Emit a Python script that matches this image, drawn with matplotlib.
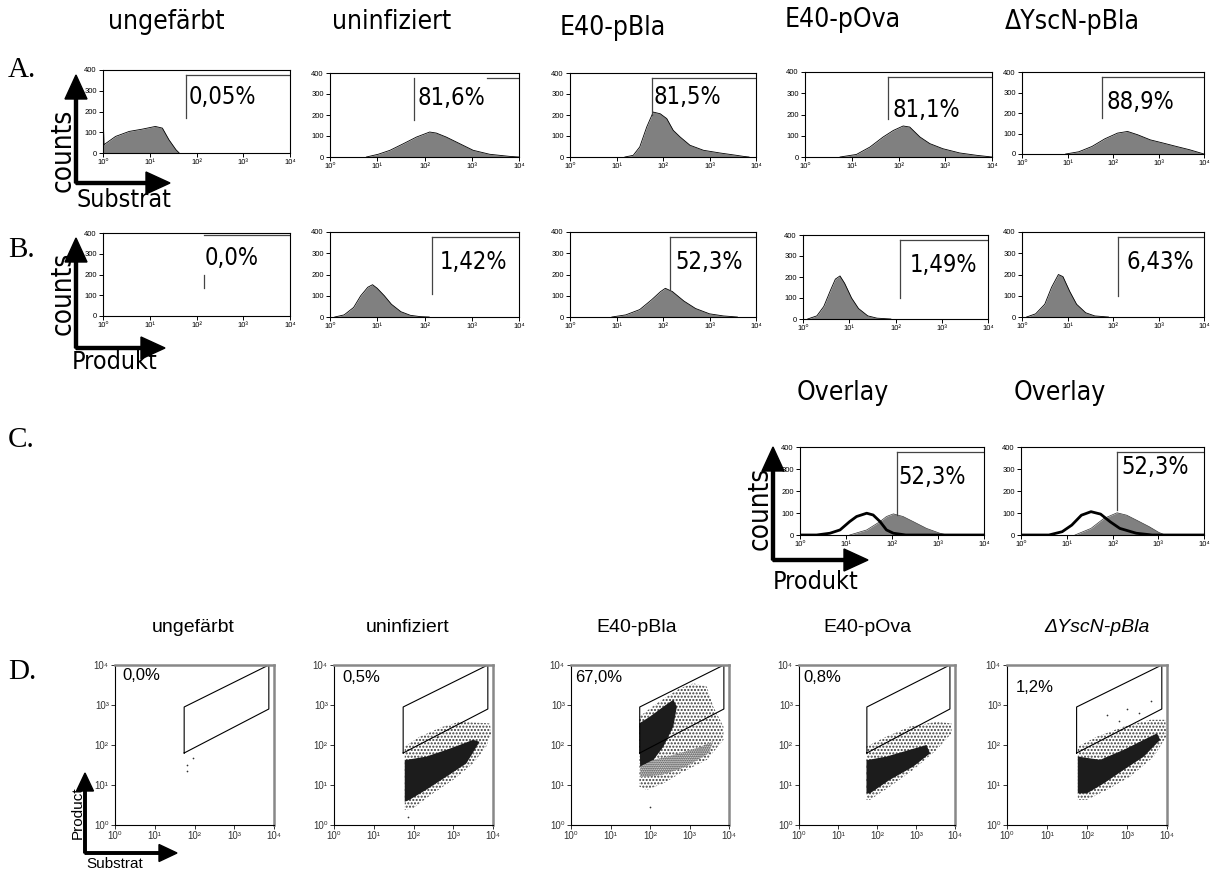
import numpy as np
import matplotlib
matplotlib.use('Agg')
import matplotlib.pyplot as plt
import matplotlib.font_manager as fm

W, H = 1212, 869
SANS = ['Liberation Sans', 'DejaVu Sans']
SERIF = ['Liberation Serif', 'DejaVu Serif']

# pick a condensed sans face if the machine has one, else shrink a normal one
cond = []
for f in fm.fontManager.ttflist:
    n = f.name
    if any(k in n for k in ('Mono', 'Serif', 'CJK', 'Math', 'Display')):
        continue
    narrow = ('Narrow' in n or 'Condensed' in n or
              f.stretch in ('condensed', 'semi-condensed', 'extra-condensed', 'ultra-condensed'))
    if narrow and f.style == 'normal' and f.weight in (400, 'normal', 'regular', 'book'):
        cond.append(f)
cond.sort(key=lambda f: 0 if 'Liberation' in f.name else (1 if 'DejaVu' in f.name else 2))
if cond:
    NARROW_FILE, SCALE = cond[0].fname, 1.0
else:
    NARROW_FILE, SCALE = None, 0.8


def narrow(size):
    if NARROW_FILE:
        return fm.FontProperties(fname=NARROW_FILE, size=size)
    return fm.FontProperties(family=SANS, size=size * SCALE)


DEC_LABELS = ['10⁰', '10¹', '10²', '10³', '10⁴']
COUNT_TICKS = [0, 100, 200, 300, 400]

titles_top = ['ungefärbt', 'uninfiziert', 'E40-pBla', 'E40-pOva', 'ΔYscN-pBla']

# --- row A: Substrat histograms (log10 fluorescence, counts)
a_x = [
    [0, 0.02, 0.27, 0.56, 0.84, 1.12, 1.27, 1.41, 1.56, 1.63],
    [0.77, 1.02, 1.27, 1.55, 1.83, 2.11, 2.25, 2.46, 2.75, 3.03, 3.38, 3.8, 4.0],
    [1.18, 1.36, 1.5, 1.65, 1.79, 1.94, 2.08, 2.22, 2.37, 2.58, 2.87, 3.23, 3.58, 3.73, 3.85],
    [0.75, 1.1, 1.39, 1.67, 1.89, 2.1, 2.24, 2.46, 2.67, 2.95, 3.31, 3.67, 4.0],
    [0.96, 1.25, 1.54, 1.82, 2.1, 2.32, 2.54, 2.82, 3.11, 3.39, 3.68, 4.0],
]
a_counts = [
    [216, 40, 80, 104, 115, 128, 120, 64, 16, 0],
    [0, 13, 32, 63, 95, 119, 114, 95, 63, 32, 13, 3, 0],
    [0, 8, 48, 143, 214, 206, 183, 127, 95, 56, 32, 19, 8, 3, 0],
    [0, 12, 47, 94, 125, 146, 141, 94, 63, 39, 19, 8, 0],
    [0, 11, 37, 74, 102, 110, 94, 69, 53, 37, 21, 0],
]
a_pct = ['0,05%', '81,6%', '81,5%', '81,1%', '88,9%']
a_pct_pos = [(1.83, 270), (1.86, 281), (1.8, 286), (1.88, 221), (1.85, 253)]
# gate: marker x, lower end, upper end, start of top line
a_gate = [(1.77, 170, 375, 1.77), (1.78, 176, 376, 3.32), (1.76, 200, 376, 1.76),
          (1.78, 181, 376, 1.78), (1.76, 176, 376, 1.76)]

# --- row B: Produkt histograms
b_x = [
    [],
    [0.1, 0.3, 0.5, 0.65, 0.8, 0.9, 1.0, 1.15, 1.3, 1.5, 1.7, 1.9, 2.1],
    [0.9, 1.2, 1.5, 1.75, 1.95, 2.05, 2.2, 2.45, 2.7, 3.0, 3.3, 3.6],
    [0.1, 0.3, 0.45, 0.6, 0.7, 0.8, 0.9, 1.05, 1.2, 1.4, 1.6, 1.9],
    [0.1, 0.3, 0.5, 0.65, 0.8, 0.9, 1.05, 1.2, 1.4, 1.6, 1.9],
]
b_counts = [
    [],
    [0, 10, 45, 100, 140, 152, 135, 100, 60, 25, 8, 2, 0],
    [0, 10, 35, 80, 120, 135, 120, 75, 40, 15, 5, 0],
    [0, 15, 60, 140, 190, 205, 170, 100, 50, 15, 4, 0],
    [0, 15, 60, 140, 200, 190, 120, 60, 20, 5, 0],
]
b_pct = ['0,0%', '1,42%', '52,3%', '1,49%', '6,43%']
b_pct_pos = [(2.18, 280), (2.33, 260), (2.26, 260), (2.3, 255), (2.3, 260)]
b_gate = [(2.16, 135, 198, 2.16, 390), (2.16, 110, 375, 2.16, 375), (2.16, 130, 375, 2.16, 375),
          (2.1, 100, 375, 2.1, 375), (2.1, 100, 375, 2.1, 375)]

# --- row C: overlays (gray = infected, black line = uninfected)
c_gray_x = [
    [1.08, 1.45, 1.74, 1.88, 2.03, 2.24, 2.46, 2.75, 3.04, 3.2],
    [1.18, 1.53, 1.81, 2.1, 2.31, 2.52, 2.8, 3.01, 3.15],
]
c_gray = [
    [0, 23, 61, 84, 96, 84, 61, 30, 8, 0],
    [0, 30, 75, 101, 90, 68, 38, 12, 0],
]
c_line_x = [
    [0, 0.36, 0.65, 0.87, 1.08, 1.23, 1.45, 1.59, 1.74, 1.88, 2.03, 2.3, 4.0],
    [0, 0.61, 0.9, 1.11, 1.32, 1.53, 1.74, 1.95, 2.16, 2.52, 2.87, 4.0],
]
c_line = [
    [0, 0, 8, 23, 61, 84, 99, 91, 61, 23, 8, 0, 0],
    [0, 0, 15, 45, 90, 106, 95, 60, 30, 8, 0, 0],
]
c_pct_pos = [(2.13, 264), (2.2, 309)]
c_gate = [(2.1, 91, 376), (2.1, 113, 376)]

# --- row D: Substrat vs Product dot plots (outlines of dot clouds, log10 units)
gate_poly_x = [1.74, 1.74, 3.87, 3.87]
gate_poly_y = [1.8, 2.95, 4.0, 2.9]
d_sparse = [
    None,
    [(1.78, 1.96), (2.16, 2.21), (2.74, 2.46), (3.16, 2.58), (3.92, 2.54), (3.96, 2.29),
     (3.83, 1.96), (3.5, 1.54), (3.0, 1.13), (2.49, 0.79), (1.99, 0.42), (1.78, 0.38)],
    [(1.73, 2.71), (2.17, 3.04), (2.76, 3.42), (3.1, 3.54), (3.44, 3.46), (3.6, 2.96),
     (3.86, 2.46), (3.86, 2.13), (3.44, 1.63), (2.76, 1.29), (2.34, 1.04), (1.92, 0.88), (1.73, 0.96)],
    [(1.73, 1.96), (2.24, 2.21), (2.84, 2.46), (3.53, 2.58), (3.91, 2.54), (3.91, 2.29),
     (3.53, 1.88), (2.93, 1.38), (2.33, 0.96), (1.82, 0.63), (1.73, 0.63)],
    [(1.77, 1.96), (2.25, 2.21), (2.92, 2.46), (3.58, 2.63), (3.96, 2.63), (3.98, 2.21),
     (3.67, 1.71), (3.08, 1.21), (2.5, 0.88), (2.0, 0.63), (1.77, 0.63)],
]
d_dense = [
    None,
    [(1.78, 1.62), (2.32, 1.71), (2.83, 1.88), (3.16, 2.0), (3.5, 2.13), (3.66, 2.08),
     (3.33, 1.54), (2.83, 1.21), (2.32, 0.88), (1.9, 0.63), (1.78, 0.58)],
    [(1.73, 2.54), (2.0, 2.71), (2.34, 2.96), (2.59, 3.13), (2.68, 2.96), (2.59, 2.46),
     (2.34, 1.96), (2.09, 1.63), (1.75, 1.46)],
    [(1.73, 1.62), (2.24, 1.71), (2.84, 1.88), (3.27, 2.0), (3.36, 1.79), (2.93, 1.46),
     (2.33, 1.13), (1.82, 0.79), (1.73, 0.79)],
    [(1.77, 1.71), (2.33, 1.63), (2.92, 1.88), (3.42, 2.13), (3.75, 2.29), (3.83, 2.13),
     (3.42, 1.71), (2.92, 1.38), (2.42, 1.04), (2.0, 0.79), (1.77, 0.79)],
]
d_mid = [
    None, None,
    [(1.75, 1.46), (2.09, 1.63), (2.59, 1.75), (3.27, 1.95), (3.6, 2.1), (3.5, 1.8),
     (2.9, 1.45), (2.3, 1.25), (1.75, 1.2)],
    None, None,
]
d_stray = [
    [(1.8, 1.5), (1.8, 1.35), (1.95, 1.68)],
    [(1.85, 0.2), (2.6, 2.2)],
    [(2.0, 0.45)],
    [(2.6, 2.3)],
    [(2.5, 2.75), (3.0, 2.9), (3.3, 2.8), (3.6, 3.1), (2.8, 2.6)],
]
d_pct = ['0,0%', '0,5%', '67,0%', '0,8%', '1,2%']
d_pct_pos = [(0.18, 3.75), (0.2, 3.68), (0.1, 3.68), (0.1, 3.68), (0.22, 3.45)]

fig = plt.figure(figsize=(W / 100, H / 100), dpi=100)
over = fig.add_axes([0, 0, 1, 1])
over.set_xlim(0, W)
over.set_ylim(H, 0)
over.axis('off')


def panel(l, t, r, b):
    ax = fig.add_axes([l / W, 1 - b / H, (r - l) / W, (b - t) / H])
    ax.set_facecolor('none')
    return ax


def hist_axes(ax):
    ax.set_xscale('log')
    ax.set_xlim(1, 1e4)
    ax.set_ylim(0, 400)
    ax.set_xticks([1, 10, 100, 1000, 10000])
    ax.set_xticklabels(DEC_LABELS, family=SANS, fontsize=5.5)
    ax.minorticks_off()
    ax.set_yticks(COUNT_TICKS)
    ax.set_yticklabels([str(v) for v in COUNT_TICKS], family=SANS, fontsize=5.5)
    ax.tick_params(length=3, width=0.7, pad=1.5)
    for s in ax.spines.values():
        s.set_linewidth(0.8)


def pct(ax, x, y, s):
    ax.text(10 ** x, y, s, fontproperties=narrow(17), va='center', ha='left')


a_rects = [(103, 70, 290, 153), (330, 73, 519, 157), (570, 73, 756, 157),
           (805, 72, 992, 157), (1022, 72, 1204, 154)]
b_rects = [(103, 233, 290, 316), (330, 232, 519, 317), (570, 232, 756, 317),
           (803, 235, 988, 319), (1022, 232, 1204, 317)]
c_rects = [(800, 447, 984, 535), (1021, 447, 1204, 535)]
d_rects = [(115, 665, 274, 825), (334, 665, 493, 825), (571, 665, 729, 825),
           (799, 665, 955, 825), (1007, 665, 1167, 825)]

for i, rc in enumerate(a_rects):
    ax = panel(*rc)
    hist_axes(ax)
    xs = 10 ** np.array(a_x[i])
    ax.fill_between(xs, a_counts[i], color='#808080', lw=0)
    ax.plot(xs, a_counts[i], color='k', lw=0.6)
    gx, lo, hi, hs = a_gate[i]
    ax.plot([10 ** gx, 10 ** gx], [lo, hi], color='#444444', lw=0.9)
    ax.plot([10 ** hs, 1e4], [hi, hi], color='#444444', lw=0.9)
    pct(ax, *a_pct_pos[i], a_pct[i])

for i, rc in enumerate(b_rects):
    ax = panel(*rc)
    hist_axes(ax)
    if b_x[i]:
        xs = 10 ** np.array(b_x[i])
        ax.fill_between(xs, b_counts[i], color='#808080', lw=0)
        ax.plot(xs, b_counts[i], color='k', lw=0.6)
    gx, lo, hi, hs, hy = b_gate[i]
    ax.plot([10 ** gx, 10 ** gx], [lo, hi], color='#444444', lw=0.9)
    ax.plot([10 ** hs, 1e4], [hy, hy], color='#444444', lw=0.9)
    pct(ax, *b_pct_pos[i], b_pct[i])

for i, rc in enumerate(c_rects):
    ax = panel(*rc)
    hist_axes(ax)
    xs = 10 ** np.array(c_gray_x[i])
    ax.fill_between(xs, c_gray[i], color='#808080', lw=0)
    ax.plot(xs, c_gray[i], color='#333333', lw=0.5)
    ax.plot(10 ** np.array(c_line_x[i]), c_line[i], color='k', lw=2.0)
    gx, lo, hi = c_gate[i]
    ax.plot([10 ** gx, 10 ** gx], [lo, hi], color='#444444', lw=0.9)
    ax.plot([10 ** gx, 1e4], [hi, hi], color='#444444', lw=0.9)
    pct(ax, *c_pct_pos[i], '52,3%')

for i, rc in enumerate(d_rects):
    ax = panel(*rc)
    ax.set_xscale('log')
    ax.set_yscale('log')
    ax.set_xlim(1, 1e4)
    ax.set_ylim(1, 1e4)
    ax.set_xticks([1, 10, 100, 1000, 10000])
    ax.set_yticks([1, 10, 100, 1000, 10000])
    ax.set_xticklabels(DEC_LABELS, family=SANS, fontsize=7)
    ax.set_yticklabels(DEC_LABELS, family=SANS, fontsize=7)
    ax.minorticks_off()
    ax.tick_params(length=3, width=0.7, pad=1.5, colors='#333333')
    ax.spines['left'].set_linewidth(0.8)
    ax.spines['bottom'].set_linewidth(0.8)
    for s in ('top', 'right'):
        ax.spines[s].set_color('#888888')
        ax.spines[s].set_linewidth(1.8)
    if d_sparse[i]:
        px, py = zip(*d_sparse[i])
        ax.fill(10 ** np.array(px), 10 ** np.array(py), facecolor='white',
                edgecolor='#3a3a3a', hatch='.....', lw=0)
    if d_mid[i]:
        px, py = zip(*d_mid[i])
        ax.fill(10 ** np.array(px), 10 ** np.array(py), facecolor='white',
                edgecolor='#202020', hatch='........', lw=0)
    if d_dense[i]:
        px, py = zip(*d_dense[i])
        ax.fill(10 ** np.array(px), 10 ** np.array(py), facecolor='#1c1c1c', lw=0)
    sx, sy = zip(*d_stray[i])
    ax.scatter(10 ** np.array(sx), 10 ** np.array(sy), s=1.5, color='#333333', lw=0)
    gx = gate_poly_x + gate_poly_x[:1]
    gy = gate_poly_y + gate_poly_y[:1]
    ax.plot(10 ** np.array(gx), 10 ** np.array(gy), color='k', lw=0.8)
    ax.text(10 ** d_pct_pos[i][0], 10 ** d_pct_pos[i][1], d_pct[i], family=SANS,
            fontsize=12, va='center', ha='left')

# titles and row labels
a_title_x = [166, 392, 613, 843, 1072]
a_title_y = [22, 22, 28, 20, 22]
for t, x, y in zip(titles_top, a_title_x, a_title_y):
    over.text(x, y, t, fontproperties=narrow(19), ha='center', va='center')
for x in (843, 1060):
    over.text(x, 393, 'Overlay', fontproperties=narrow(19), ha='center', va='center')
d_title_x = [193, 408, 637, 867, 1097]
for t, x in zip(titles_top, d_title_x):
    over.text(x, 627, t, family=SANS, fontsize=14, ha='center', va='center',
              style='italic' if t.startswith('Δ') else 'normal')
for lab, y in zip(['A.', 'B.', 'C.', 'D.'], [70, 250, 440, 672]):
    over.text(8, y, lab, family=SERIF, fontsize=21, ha='left', va='center')


def arrows(x0, y0, ytip, xtip, hw, hl, lw):
    over.arrow(x0, y0, 0, ytip - y0, width=lw, head_width=hw, head_length=hl,
               length_includes_head=True, color='k')
    over.arrow(x0, y0, xtip - x0, 0, width=lw, head_width=hw, head_length=hl,
               length_includes_head=True, color='k')


arrows(76, 183, 75, 170, 22, 24, 3)
arrows(76, 348, 238, 165, 22, 24, 3)
arrows(773, 560, 447, 868, 22, 24, 3)
arrows(85, 853, 773, 177, 17, 18, 2.5)

for x, y in [(63, 150), (63, 293), (760, 508)]:
    over.text(x, y, 'counts', fontproperties=narrow(20), rotation=90, ha='center', va='center')
over.text(76, 200, 'Substrat', fontproperties=narrow(18), ha='left', va='center')
over.text(72, 362, 'Produkt', fontproperties=narrow(18), ha='left', va='center')
over.text(773, 582, 'Produkt', fontproperties=narrow(18), ha='left', va='center')
over.text(78, 813, 'Product', family=SANS, fontsize=11, rotation=90, ha='center', va='center')
over.text(86, 864, 'Substrat', family=SANS, fontsize=11, ha='left', va='center')

fig.savefig('out.png', dpi=100)
